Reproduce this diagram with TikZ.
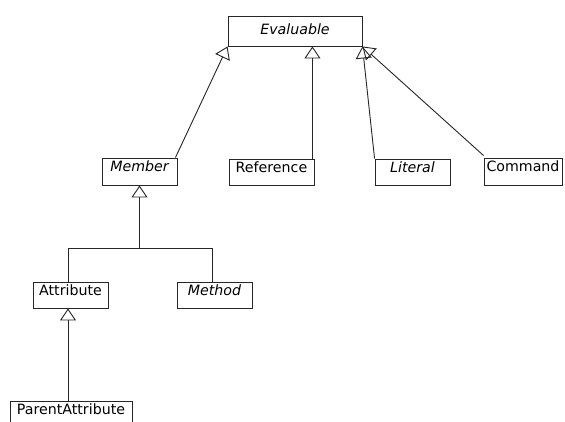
\documentclass[tikz,border=0pt]{standalone}
\usepackage{fontspec}
\setmainfont{DejaVu Sans}
\usetikzlibrary{arrows.meta,calc}
\begin{document}
\begin{tikzpicture}[x=1pt,y=-1pt,
  cls/.style={draw=black!85, line width=0.9pt, inner sep=0pt, minimum height=26pt,
    text height=10pt, text depth=10pt, font=\fontsize{14.2}{16}\selectfont},
  abs/.style={cls, font=\fontsize{14.2}{16}\selectfont\itshape},
  inh/.style={draw=black!85, line width=0.9pt, -{Triangle[open, length=12pt, width=16pt, line width=0.9pt]}},
  lnk/.style={draw=black!85, line width=0.9pt}]
\useasboundingbox (0,0) rectangle (565,421);
\fill[white] (0,0) rectangle (565,421);
\node[abs, minimum width=134pt, minimum height=30pt, text height=10pt, text depth=4pt] (evaluable) at (295,31) {Evaluable};
\node[cls, minimum width=85pt] (reference) at (271.5,172) {Reference};
\node[abs, minimum width=75pt] (literal) at (412.5,172) {Literal};
\node[cls, minimum width=78pt, minimum height=27pt] (command) at (523,171.5) {Command};
\node[abs, minimum width=75pt, minimum height=27pt] (member) at (139.5,171.5) {Member};
\node[cls, minimum width=75pt] (attribute) at (70.5,295) {Attribute};
\node[abs, minimum width=75pt] (method) at (214.5,295) {Method};
\node[cls, minimum width=122pt] (parent) at (71,414) {ParentAttribute};
% generalisations to Evaluable
\draw[inh] ($(member.north east)+(-2,0)$) -- (evaluable.south west);
\draw[inh] ($(reference.north east)+(-2,0)$) coordinate (r1) -- (r1 |- evaluable.south);
\draw[inh] (literal.north west) -- (evaluable.south east);
\draw[inh] ($(command.north west)+(0,-2)$) -- (evaluable.south east);
% Member subtree
\coordinate (j) at ($(member.south)+(0,63)$);
\draw[lnk] ($(attribute.north)+(-2.5,0)$) |- (j) -| ($(method.north)+(-2.5,0)$);
\draw[inh] (j) -- (member.south);
% ParentAttribute
\draw[inh] ($(parent.north)+(-3,0)$) coordinate (p1) -- (p1 |- attribute.south);
\end{tikzpicture}
\end{document}
